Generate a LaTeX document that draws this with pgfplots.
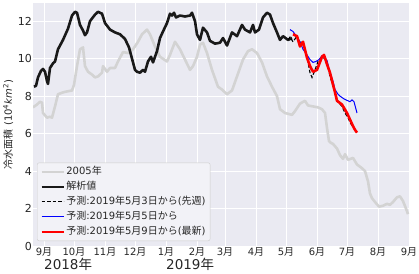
\documentclass[border=0pt]{standalone}
\usepackage{pgfplots}
\pgfplotsset{compat=1.18}
\usepackage{pgfplotstable}
\usepackage{fontspec}
\setmainfont{DejaVu Sans}
\newfontfamily\jp{Noto Sans CJK JP}
\definecolor{bgc}{HTML}{EAEAF2}
\definecolor{grayline}{HTML}{D3D3D3}
\definecolor{txt}{HTML}{262626}
\definecolor{legfill}{HTML}{F2F2F7}
\definecolor{legedge}{HTML}{CCCCCC}

\pgfplotstableread{
d v
-11 7.4
-7 7.55
-4 7.7
-2 7.65
-1 7.1
3 6.85
6 6.9
8 6.85
11 7.45
14 8.1
19 8.2
23 8.25
28 8.3
30 8.6
33 9.6
36 10.5
39 10.6
41 9.6
44 9.3
48 9.15
51 9.0
54 9.05
58 9.25
59 9.6
63 9.3
66 9.5
71 9.5
74 9.85
79 10.35
84 10.3
89 10.5
94 10.9
98 11.3
103 11.55
106 11.3
111 10.65
116 10.1
123 9.85
126 10.2
131 10.9
136 10.5
141 9.95
146 9.4
149 9.6
153 10.1
156 10.75
159 10.85
163 10.3
168 9.4
174 8.5
178 8.35
183 8.1
188 8.3
193 9.05
199 9.95
204 10.4
208 10.5
213 10.3
218 9.8
223 9.05
228 8.5
233 8.0
236 7.3
241 7.1
248 7.0
251 7.2
256 7.6
261 7.75
264 7.5
269 7.45
274 7.4
278 7.3
281 7.1
283 6.3
285 5.6
287 5.5
289 5.45
293 5.2
296 4.85
299 4.65
301 4.9
304 4.6
309 4.7
313 4.35
318 4.15
321 4.0
324 3.45
326 2.8
328 2.55
331 2.35
335 2.1
339 2.15
343 2.25
346 2.2
349 2.35
353 2.6
356 2.65
359 2.4
362 2.0
364 1.7
}\tabgray

\pgfplotstableread{
d v
-10 8.5
-8 8.55
-6 9.0
-3 9.35
-1 9.45
1 9.3
3 8.8
4 8.65
6 9.5
9 9.75
11 9.85
14 10.5
19 11.0
24 11.6
28 12.3
31 12.5
33 12.45
36 11.8
39 11.5
41 11.25
43 11.4
46 12.0
51 12.35
54 12.5
58 12.4
61 11.9
66 11.55
71 11.4
76 11.3
81 11.05
85 10.6
88 10.0
91 9.4
93 9.3
96 9.25
99 9.4
101 9.3
104 9.85
107 10.1
109 9.8
113 10.4
116 11.1
119 11.45
123 11.9
126 12.4
128 12.3
130 12.45
132 12.2
136 12.3
141 12.25
146 12.3
148 12.45
151 12.0
153 11.3
156 11.0
159 11.65
163 11.4
166 10.95
171 10.8
176 10.85
179 11.1
183 10.7
188 11.4
193 11.2
198 11.8
201 11.55
206 11.4
209 11.8
211 11.4
215 11.55
219 12.2
223 12.45
226 12.35
229 11.9
233 11.4
236 11.0
239 11.2
244 11.0
248 11.1
}\tabblack

\pgfplotstableread{
d v
244 11.0
246 11.15
249 10.9
253 11.2
256 10.85
259 10.9
263 10.1
266 9.25
268 9.0
271 9.4
274 9.85
279 10.1
283 9.8
286 9.05
291 8.2
294 7.7
298 7.45
301 7.1
304 6.85
306 6.6
309 6.35
}\tabdash

\pgfplotstableread{
d v
246 11.55
249 11.45
251 11.3
256 10.9
259 10.5
263 10.2
266 9.95
269 9.8
272 9.85
275 9.95
278 10.15
281 10.05
283 9.9
286 9.25
289 8.8
291 8.35
294 8.1
296 8.0
300 7.85
304 7.75
306 7.7
308 7.8
310 7.7
313 7.1
}\tabblue

\pgfplotstableread{
d v
249 11.3
253 11.2
256 10.65
259 10.9
263 10.05
266 9.6
269 9.3
273 9.4
278 10.1
280 10.2
283 9.7
286 9.25
291 8.2
293 7.75
298 7.55
303 7.1
306 6.75
309 6.4
311 6.2
313 6.05
}\tabred

\begin{document}
\begin{tikzpicture}
\useasboundingbox (-33pt,-27pt) rectangle (386pt,246pt);
\begin{axis}[
  anchor=south west, at={(0pt,0pt)},
  width=376pt, height=243pt, scale only axis,
  xmin=-11, xmax=365, ymin=0, ymax=12.97,
  axis line style={draw=none},
  axis background/.style={fill=bgc},
  grid=major,
  major grid style={white, line width=0.9pt},
  major tick length=0pt,
  xtick={0,30,61,91,122,153,181,212,242,273,303,334,365},
  xticklabels={9{\jp 月},10{\jp 月},11{\jp 月},12{\jp 月},1{\jp 月},2{\jp 月},3{\jp 月},4{\jp 月},5{\jp 月},6{\jp 月},7{\jp 月},8{\jp 月},9{\jp 月}},
  ytick={0,2,4,6,8,10,12},
  /pgf/number format/assume math mode=true,
  xticklabel style={font=\fontsize{10}{12}\selectfont, text=txt, inner sep=1pt},
  yticklabel style={font=\fontsize{11}{13}\selectfont, text=txt, inner sep=1pt},
  ylabel={{\jp 冷水面積} (10\textsuperscript{4}\textit{km}\textsuperscript{2})},
  ylabel style={at={(axis description cs:-0.066,0.5)}, anchor=center, font=\fontsize{10}{12}\selectfont, text=txt},
  clip mode=individual,
  legend cell align=left,
  legend image code/.code={\draw[#1] (0pt,0pt) -- (22pt,0pt);},
  legend style={at={(0,0)}, anchor=south west, xshift=4pt, yshift=5pt,
    fill=legfill, draw=legedge, rounded corners=2pt,
    font=\fontsize{10}{12}\selectfont, text=txt,
    nodes={inner sep=1.5pt, text height=8.5pt, text depth=2.5pt},
    row sep=1pt, inner xsep=3pt, inner ysep=2pt},
]
\addplot[grayline, line width=2.6pt, line join=round] table[x=d,y=v] {\tabgray};
\addlegendentry{2005{\jp 年}}
\addplot[black!90, line width=2.6pt, line join=round] table[x=d,y=v] {\tabblack};
\addlegendentry{\jp 解析値}
\addplot[black, line width=1.1pt, dash pattern=on 3.5pt off 2pt] table[x=d,y=v] {\tabdash};
\addlegendentry{{\jp 予測}:2019{\jp 年}5{\jp 月}3{\jp 日から}({\jp 先週})}
\addplot[blue, line width=1pt, line join=round] table[x=d,y=v] {\tabblue};
\addlegendentry{{\jp 予測}:2019{\jp 年}5{\jp 月}5{\jp 日から}}
\addplot[red, line width=2.6pt, line join=round] table[x=d,y=v] {\tabred};
\addlegendentry{{\jp 予測}:2019{\jp 年}5{\jp 月}9{\jp 日から}({\jp 最新})}
\node[anchor=base west, font=\fontsize{13.5}{15}\selectfont, text=txt, inner sep=0pt] at (axis cs:0,0) [yshift=-23.5pt] {2018{\jp 年}};
\node[anchor=base west, font=\fontsize{13.5}{15}\selectfont, text=txt, inner sep=0pt] at (axis cs:122,0) [yshift=-23.5pt] {2019{\jp 年}};
\end{axis}
\end{tikzpicture}
\end{document}
